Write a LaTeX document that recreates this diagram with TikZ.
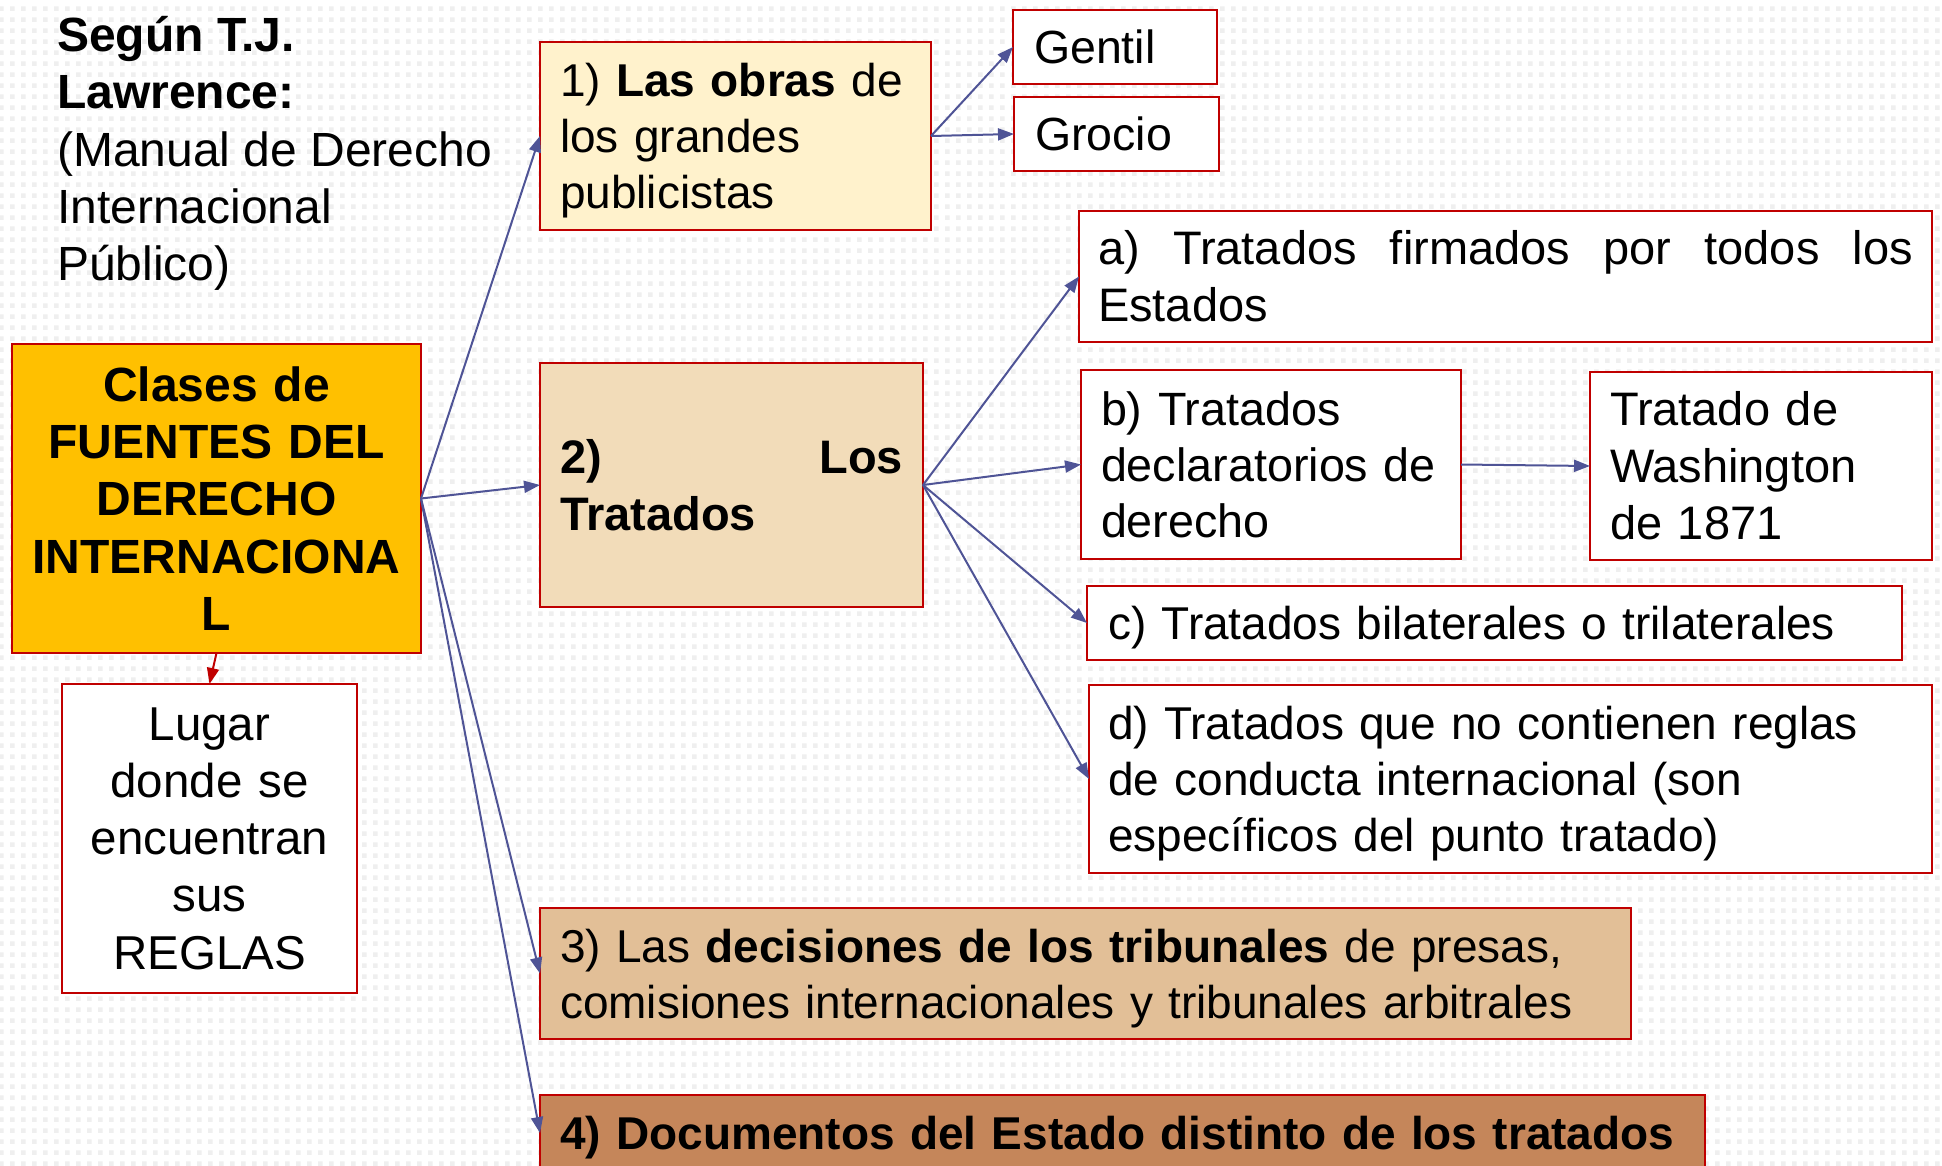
\documentclass[tikz,border=0pt]{standalone}
\usepackage{fontspec}
\setmainfont{Liberation Sans}
\usetikzlibrary{arrows.meta,patterns.meta}

\definecolor{bred}{HTML}{C00000}
\definecolor{arrc}{HTML}{4F5496}
\definecolor{mainfill}{HTML}{FFC000}
\definecolor{fone}{HTML}{FFF2CC}
\definecolor{ftwo}{HTML}{F2DCB9}
\definecolor{fthree}{HTML}{E2BF97}
\definecolor{ffour}{HTML}{C5865A}
\definecolor{dotc}{HTML}{EFEFEF}

\tikzdeclarepattern{name=bgdots, type=uncolored,
  bounding box={(0pt,0pt) and (11pt,11pt)},
  tile size={(11pt,11pt)},
  code={\fill (0pt,0pt) rectangle (5pt,5pt);}}

\begin{document}
\begin{tikzpicture}[x=1pt,y=-1pt,
  txt/.style={font=\fontsize{47}{57}\selectfont},
  btxt/.style={font=\fontsize{47}{57}\selectfont\bfseries},
  stxt/.style={font=\fontsize{46}{56}\selectfont},
  ltxt/.style={font=\fontsize{48}{57.3}\selectfont},
  box/.style={draw=bred, line width=2.5pt, inner sep=0pt, outer sep=0pt},
  tnode/.style={inner sep=0pt, align=left},
  arr/.style={color=arrc, line width=2pt, -{Triangle[length=16pt,width=12pt]}},
  rarr/.style={color=bred, line width=2pt, -{Triangle[length=16pt,width=12pt]}},
]
\useasboundingbox (0,0) rectangle (1942,1166);
\clip (0,0) rectangle (1942,1166);
\fill[white] (0,0) rectangle (1942,1166);
\fill[pattern={bgdots}, pattern color=dotc] (0,0) rectangle (1942,1166);

% title
\node[ltxt, anchor=north west, inner sep=0pt, align=left] (title) at (57,16)
  {\textbf{Según T.J.}\\\textbf{Lawrence:}\\(Manual de Derecho\\Internacional\\Público)};

% main box
\node[box, fill=mainfill, minimum width=409pt, minimum height=309pt,
      font=\fontsize{48}{57.3}\selectfont\bfseries,
      text width=389pt, align=center] (main) at (216.5,498.5)
  {Clases de\\FUENTES DEL\\DERECHO\\INTERNACIONA\\L};

\node[box, fill=white, minimum width=295pt, minimum height=309pt,
      font=\fontsize{47.5}{57.3}\selectfont,
      text width=275pt, align=center] (lugar) at (209.5,838.5)
  {Lugar\\donde se\\encuentran\\sus\\REGLAS};

% box 1
\node[box, fill=fone, minimum width=391pt, minimum height=188pt] (b1) at (735.5,136) {};
\node[tnode, stxt, text width=351pt, yshift=-5pt] (b1t) at (b1.center)
  {1) \textbf{Las obras} de\\los grandes\\publicistas};

\node[box, fill=white, minimum width=204pt, minimum height=74pt,
      font=\fontsize{46.5}{56}\selectfont,
      text width=162pt, align=left] (gentil) at (1115,47) {Gentil};
\node[box, fill=white, minimum width=205pt, minimum height=74pt,
      font=\fontsize{46.5}{56}\selectfont,
      text width=163pt, align=left] (grocio) at (1116.5,134) {Grocio};

% box 2
\node[box, btxt, fill=ftwo, minimum width=383pt, minimum height=244pt,
      text width=343pt, align=left] (b2) at (731.5,485)
  {2)\hfill Los\\Tratados};

\node[box, txt, fill=white, minimum width=853pt, minimum height=131pt,
      text width=815pt, align=left] (ta) at (1505.5,276.5)
  {a)\hfill Tratados\hfill firmados\hfill por\hfill todos\hfill los\\Estados};

\node[box, fill=white, minimum width=380pt, minimum height=189pt,
      font=\fontsize{46.7}{56}\selectfont,
      text width=340pt, align=left] (tb) at (1271,464.5)
  {b) Tratados\\declaratorios de\\derecho};

\node[box, txt, fill=white, minimum width=342pt, minimum height=188pt,
      text width=302pt, align=left] (wash) at (1761,466)
  {Tratado de\\Washington\\de 1871};

\node[box, fill=white, minimum width=815pt, minimum height=74pt] (tc) at (1494.5,623) {};
\node[tnode, stxt, text width=773pt, yshift=-5pt] (tct) at (tc.center)
  {c) Tratados bilaterales o trilaterales};

\node[box, fill=white, minimum width=843pt, minimum height=188pt] (td) at (1510.5,779) {};
\node[tnode, stxt, text width=805pt, yshift=-5pt] (tdt) at (td.center)
  {d) Tratados que no contienen reglas\\de conducta internacional (son\\específicos del punto tratado)};

% box 3
\node[box, fill=fthree, minimum width=1091pt, minimum height=131pt] (b3) at (1085.5,973.5) {};
\node[tnode, stxt, text width=1051pt, yshift=-5pt] (b3t) at (b3.center)
  {3) Las \textbf{decisiones de los tribunales} de presas,\\comisiones internacionales y tribunales arbitrales};

% box 4
\node[box, fill=ffour, minimum width=1165pt, minimum height=76pt] (b4) at (1122.5,1133) {};
\node[tnode, stxt, text width=1125pt, yshift=-5pt, font=\fontsize{46}{56}\selectfont\bfseries] (b4t) at (b4.center)
  {\mbox{4) Documentos del Estado distinto de los tratados}};

% connectors
\draw[arr] (main.east) -- (b1.west);
\draw[arr] (main.east) -- (b2.west);
\draw[arr] (main.east) -- (b3.west);
\draw[arr] (main.east) -- (b4.west);
\draw[arr] (b1.east) -- (gentil.west);
\draw[arr] (b1.east) -- (grocio.west);
\draw[arr] (b2.east) -- (ta.west);
\draw[arr] (b2.east) -- (tb.west);
\draw[arr] (b2.east) -- (tc.west);
\draw[arr] (b2.east) -- (td.west);
\draw[arr] (tb.east) -- (wash.west);
\draw[rarr] (main.south) -- (lugar.north);
\end{tikzpicture}
\end{document}
